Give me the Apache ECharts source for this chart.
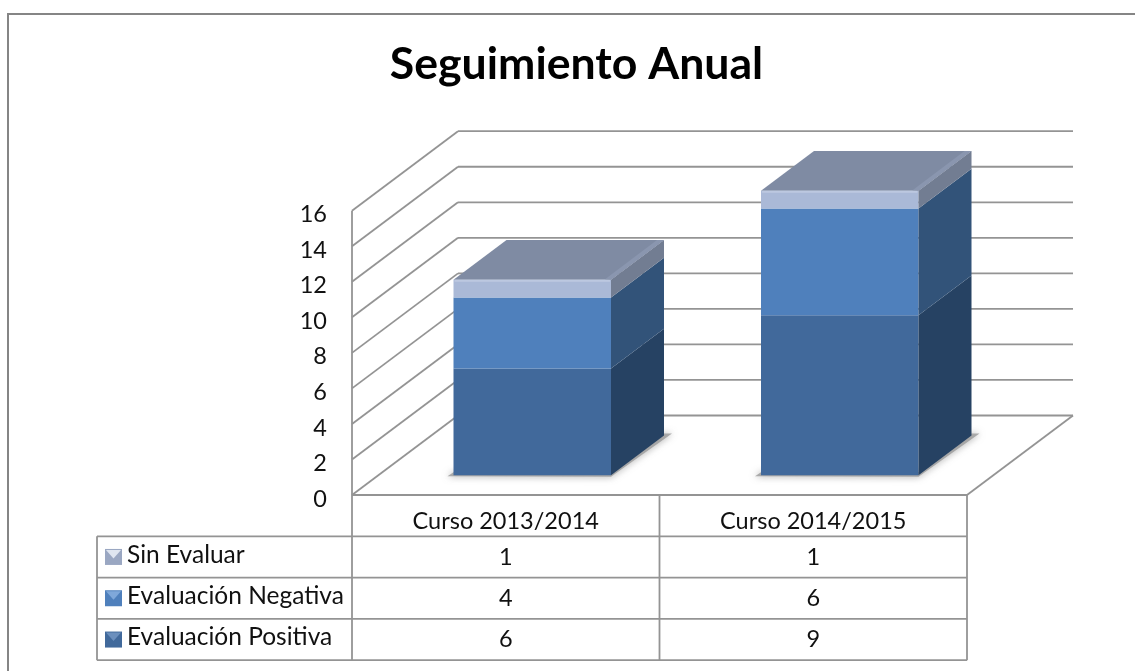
<!DOCTYPE html>
<html>
<head>
<meta charset="utf-8">
<title>Seguimiento Anual</title>
<script src="https://cdn.jsdelivr.net/npm/echarts@6/dist/echarts.min.js"></script>
<style>
    html, body { margin: 0; padding: 0; background: #fff; }
    #container { width: 1135px; height: 671px; }
</style>
</head>
<body>
<div id="container"></div>
<script>
let titleText = 'Seguimiento Anual';
let categories = ['Curso 2013/2014', 'Curso 2014/2015'];
let seriesNames = ['Evaluación Positiva', 'Evaluación Negativa', 'Sin Evaluar'];
let positiva = [6, 9];
let negativa = [4, 6];
let sinEvaluar = [1, 1];
let yTicks = [0, 2, 4, 6, 8, 10, 12, 14, 16];

let fontName = 'Lato';
let textSize = 23.5;
let legendSize = 24.5;
let gridColor = '#949494';
let lineW = 1.8;

// fake 3d: how far the back wall sits from the front edge, in pixels
let depthX = 106;
let depthY = -79.5;
// bar box sits between these fractions of the depth
let barNear = 0.25;
let barFar = 0.75;
let barWidthPx = 157.5;

let grid = { left: 352, top: 210.7, width: 615, height: 284.3 };
let rowH = 41.3;
let tableLeft = 97;

// front, side colours per stacked segment
let frontColors = ['#41699b', '#4f80bc', '#aab9d7'];
let sideColors = ['#264263', '#325379', '#727d92'];
let topColor = '#7f8ba3';

function line(x1, y1, x2, y2) {
    return {
        type: 'line',
        shape: { x1: x1, y1: y1, x2: x2, y2: y2 },
        style: { stroke: gridColor, lineWidth: lineW }
    };
}

function poly(points, fill, extra) {
    let style = Object.assign({ fill: fill }, extra || {});
    return { type: 'polygon', shape: { points: points }, style: style };
}

// walls and floor
function renderWalls(params, api) {
    let yVal = api.value(0);
    let p = api.coord([0, yVal]);
    let x0 = grid.left;
    let y0 = p[1];
    let right = grid.left + grid.width;
    let children = [
        line(x0, y0, x0 + depthX, y0 + depthY),
        line(x0 + depthX, y0 + depthY, right + depthX, y0 + depthY)
    ];
    if (yVal === 0) {
        children.push(line(x0, y0, right, y0));
        children.push(line(right, y0, right + depthX, y0 + depthY));
        children.push(line(x0, y0, x0, api.coord([0, yTicks[yTicks.length - 1]])[1]));
    }
    return { type: 'group', children: children };
}

// one stacked segment of one bar box
function renderBar(params, api) {
    let cat = api.value(0);
    let from = api.value(1);
    let to = api.value(2);
    let seg = api.value(3);
    let isTop = api.value(4) === 1;
    let center = api.coord([cat, 0])[0];
    let yFrom = api.coord([cat, from])[1];
    let yTo = api.coord([cat, to])[1];

    let nx = depthX * barNear, ny = depthY * barNear;
    let fx = depthX * barFar, fy = depthY * barFar;
    let l = center + nx - barWidthPx / 2;
    let r = center + nx + barWidthPx / 2;
    let dx = fx - nx, dy = fy - ny;
    let a = yFrom + ny, b = yTo + ny;

    let children = [];
    if (from === 0) {
        // soft shadow on the floor
        children.push(poly([[l - 6, a + 1], [r, a + 1.5], [r + dx + 8, a + dy - 2], [r + dx, a + dy - 2], [r, a - 3], [l, a - 3]], '#9a9a9a', {
            shadowBlur: 7, shadowColor: '#8a8a8a', opacity: 0.8
        }));
    }
    children.push(poly([[l, a], [r, a], [r, b], [l, b]], frontColors[seg]));
    children.push(poly([[r, a], [r + dx, a + dy], [r + dx, b + dy], [r, b]], sideColors[seg]));
    if (isTop) {
        children.push(poly([[l, b], [r, b], [r + dx, b + dy], [l + dx, b + dy]], topColor));
        // bevel highlights
        children.push({ type: 'line', shape: { x1: l + 1, y1: b + 1, x2: r - 1, y2: b + 1 }, style: { stroke: '#bcc8e0', lineWidth: 2 } });
        children.push(poly([[r, b], [r + dx, b + dy], [r + dx - 7, b + dy], [r - 6, b - 0.5]], '#8a96af'));
    }
    return { type: 'group', children: children };
}

// table: lines, first column with legend keys, cells centred under categories
function renderTable(params, api) {
    let left = grid.left;
    let right = grid.left + grid.width;
    let top = grid.top + grid.height;
    let mid = (api.coord([0, 0])[0] + api.coord([1, 0])[0]) / 2;
    let rows = seriesNames.length;
    let bottom = top + rowH * (rows + 1);
    let children = [];

    children.push(line(left, top, left, bottom));
    children.push(line(mid, top, mid, bottom));
    children.push(line(right, top, right, bottom));
    children.push(line(tableLeft, top + rowH, tableLeft, bottom));
    for (let i = 1; i <= rows + 1; i++) {
        let yy = top + rowH * i;
        children.push(line(tableLeft, yy, right, yy));
    }

    let values = [sinEvaluar, negativa, positiva];
    categories.forEach(function (name, c) {
        let cx = api.coord([c, 0])[0];
        children.push(cellText(name, cx, top + rowH / 2 + 6, 'center', textSize));
        values.forEach(function (arr, r) {
            children.push(cellText(String(arr[c]), cx, top + rowH * (r + 1.5), 'center', textSize));
        });
    });

    seriesNames.slice().reverse().forEach(function (name, r) {
        let cy = top + rowH * (r + 1.5);
        let seg = rows - 1 - r;
        children.push(cellText(name, tableLeft + 30, cy - 2, 'left', legendSize));
        children.push(legendKey(tableLeft + 8, cy - 8, seg));
    });
    return { type: 'group', children: children };
}

function cellText(text, x, y, align, size) {
    return {
        type: 'text',
        style: {
            text: text, x: x, y: y, align: align, verticalAlign: 'middle',
            fontFamily: fontName, fontSize: size, fill: '#111'
        }
    };
}

function legendKey(x, y, seg) {
    let s = 17;
    return {
        type: 'group',
        children: [
            { type: 'rect', shape: { x: x, y: y, width: s, height: s - 1 }, style: { fill: seg === 2 ? '#9aa7c2' : frontColors[seg] } },
            poly([[x + 1, y + 1], [x + s - 1, y + 1], [x + s / 2, y + s / 2 + 1]], seg === 2 ? '#dfe5f0' : (seg === 1 ? '#7fa8da' : '#6b8fbd'))
        ]
    };
}

let wallData = yTicks.map(function (v) { return [v]; });
let barData = [];
for (let c = 0; c < categories.length; c++) {
    let base = 0;
    [positiva, negativa, sinEvaluar].forEach(function (arr, s) {
        barData.push([c, base, base + arr[c], s, s === 2 ? 1 : 0]);
        base += arr[c];
    });
}

let myChart = echarts.init(document.getElementById('container'));
let option = {
    animation: false,
    backgroundColor: '#fff',
    title: {
        text: titleText,
        left: 571.5, top: 37,
        textAlign: 'center',
        textStyle: { fontFamily: fontName, fontWeight: 'bold', fontSize: 44.6, color: '#000' }
    },
    graphic: [{
        type: 'polyline',
        shape: { points: [[8, 671], [8, 14], [1135, 14]] },
        style: { stroke: '#858585', lineWidth: 2, fill: 'none' }
    }],
    grid: { left: grid.left, top: grid.top, width: grid.width, height: grid.height },
    xAxis: {
        type: 'category',
        data: categories,
        axisLine: { show: false },
        axisTick: { show: false },
        axisLabel: { show: false }
    },
    yAxis: {
        type: 'value',
        min: 0, max: 16, interval: 2,
        axisLine: { show: false },
        axisTick: { show: false },
        splitLine: { show: false },
        axisLabel: {
            margin: 25,
            formatter: '{t|{value}}',
            rich: { t: { fontFamily: fontName, fontSize: textSize, color: '#111', padding: [8, 0, 0, 0] } }
        }
    },
    series: [
        { type: 'custom', renderItem: renderWalls, data: wallData, z: 1, encode: { y: 0 }, silent: true },
        { type: 'custom', renderItem: renderBar, data: barData, z: 2, silent: true },
        { type: 'custom', renderItem: renderTable, data: [[0]], z: 3, silent: true }
    ]
};
myChart.setOption(option, true);
</script>
</body>
</html>
